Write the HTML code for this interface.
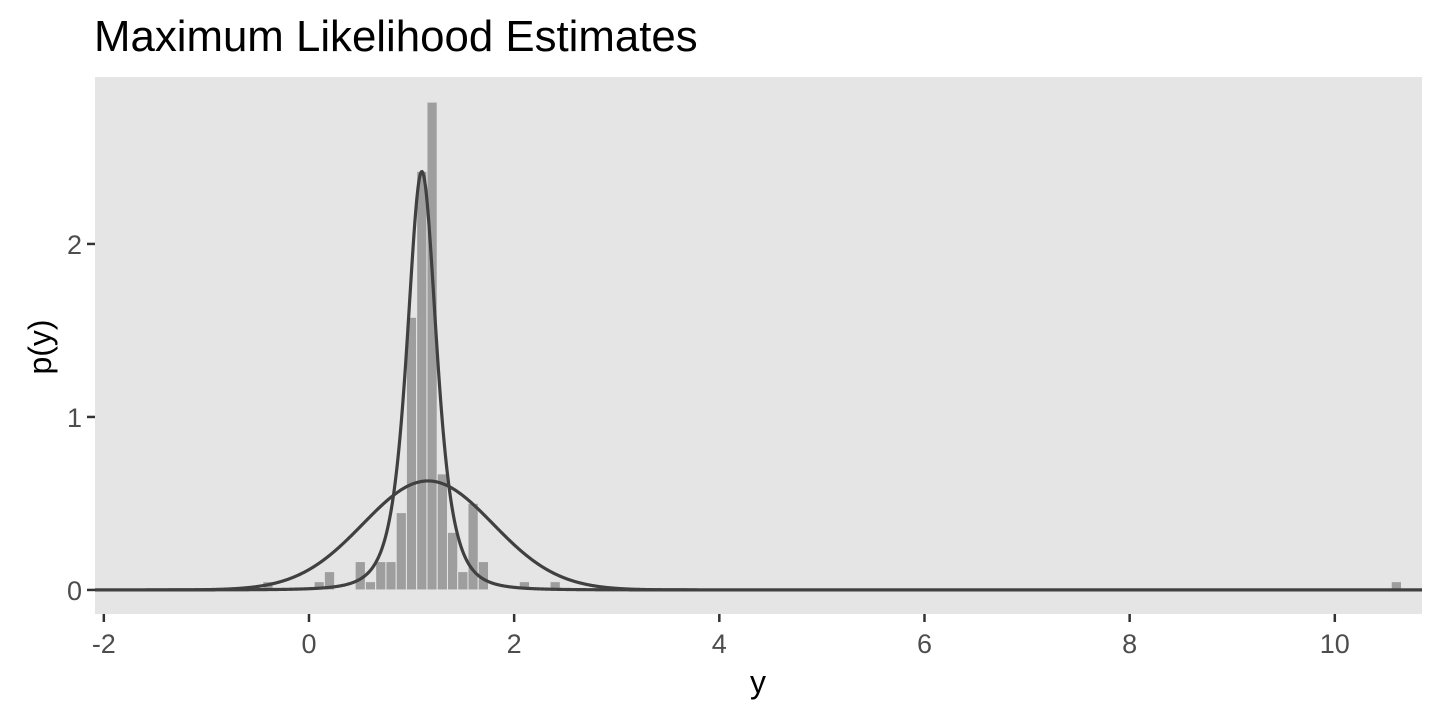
<!DOCTYPE html>
<html><head><meta charset="utf-8"><style>
body{margin:0;background:#fff;font-family:"Liberation Sans",Arial,sans-serif}
</style></head><body>
<svg id="chart" width="1440" height="720" xmlns="http://www.w3.org/2000/svg">
<text x="94" y="51" font-size="43.8" fill="#000">Maximum Likelihood Estimates</text>
<rect x="95" y="77" width="1327" height="537" fill="#e5e5e5"/>
<g id="bars"></g>
<g id="curves"></g>
<g id="axes"></g>
<text x="758" y="693" font-size="32" text-anchor="middle" fill="#000">y</text>
<text transform="translate(51,347) rotate(-90)" font-size="32" text-anchor="middle" fill="#000">p(y)</text>
</svg>
<script>
const binStarts=[-0.45,0.05,0.15,0.45,0.55,0.65,0.75,0.85,0.95,1.05,1.15,1.25,1.35,1.45,1.55,1.65,2.05,2.35,10.55];
const binDensity=[0.048,0.048,0.106,0.164,0.048,0.164,0.164,0.447,1.576,2.42,2.82,0.671,0.333,0.106,0.501,0.164,0.048,0.048,0.048];
const binWidth=0.1;
const xTicks=[-2,0,2,4,6,8,10];
const yTicks=[0,1,2];
const normalMean=1.16, normalSd=0.633;
const tLoc=1.10, tScale=0.152, tDf=3;
const X0=-2.086,X1=10.85,Y0=-0.139,Y1=2.965;
const px={l:95,r:1422,t:77,b:614};
const sx=v=>px.l+(v-X0)/(X1-X0)*(px.r-px.l);
const sy=v=>px.b-(v-Y0)/(Y1-Y0)*(px.b-px.t);
const NS="http://www.w3.org/2000/svg";
const mk=(t,a)=>{const e=document.createElementNS(NS,t);for(const k in a)e.setAttribute(k,a[k]);return e;};
const bars=document.getElementById('bars');
binStarts.forEach((s,i)=>{
  const r=mk('rect',{x:sx(s),y:sy(binDensity[i]),width:sx(s+binWidth)-sx(s),height:sy(0)-sy(binDensity[i]),fill:'#9e9e9e',stroke:'#e5e5e5','stroke-width':1});
  
  
  bars.appendChild(r);
});
const curves=document.getElementById('curves');
function path(f,name){
  let d='';
  for(let i=0;i<=2500;i++){const x=X0+(X1-X0)*i/2500;d+=(i?'L':'M')+sx(x).toFixed(2)+','+sy(f(x)).toFixed(2);}
  const p=mk('path',{d:d,fill:'none',stroke:'#404040','stroke-width':3.2});
  
  
  curves.appendChild(p);
}
path(x=>Math.exp(-0.5*((x-normalMean)/normalSd)**2)/(normalSd*Math.sqrt(2*Math.PI)),'normal-curve');
path(x=>{const t=(x-tLoc)/tScale;return (2/(Math.PI*Math.sqrt(3)))*Math.pow(1+t*t/tDf,-(tDf+1)/2)/tScale;},'t-curve');
const axes=document.getElementById('axes');
xTicks.forEach(v=>{
  const l=mk('line',{x1:sx(v),x2:sx(v),y1:px.b,y2:px.b+8,stroke:'#333','stroke-width':2.5});
  
  
  axes.appendChild(l);
  const t=mk('text',{x:sx(v),y:653,'font-size':27,'text-anchor':'middle',fill:'#4d4d4d'});
  t.textContent=v;
  
  
  axes.appendChild(t);
});
yTicks.forEach(v=>{
  const l=mk('line',{x1:px.l-8,x2:px.l,y1:sy(v),y2:sy(v),stroke:'#333','stroke-width':2.5});
  
  
  axes.appendChild(l);
  const t=mk('text',{x:px.l-13,y:sy(v)+10,'font-size':27,'text-anchor':'end',fill:'#4d4d4d'});
  t.textContent=v;
  
  
  axes.appendChild(t);
});
</script>
</body></html>
